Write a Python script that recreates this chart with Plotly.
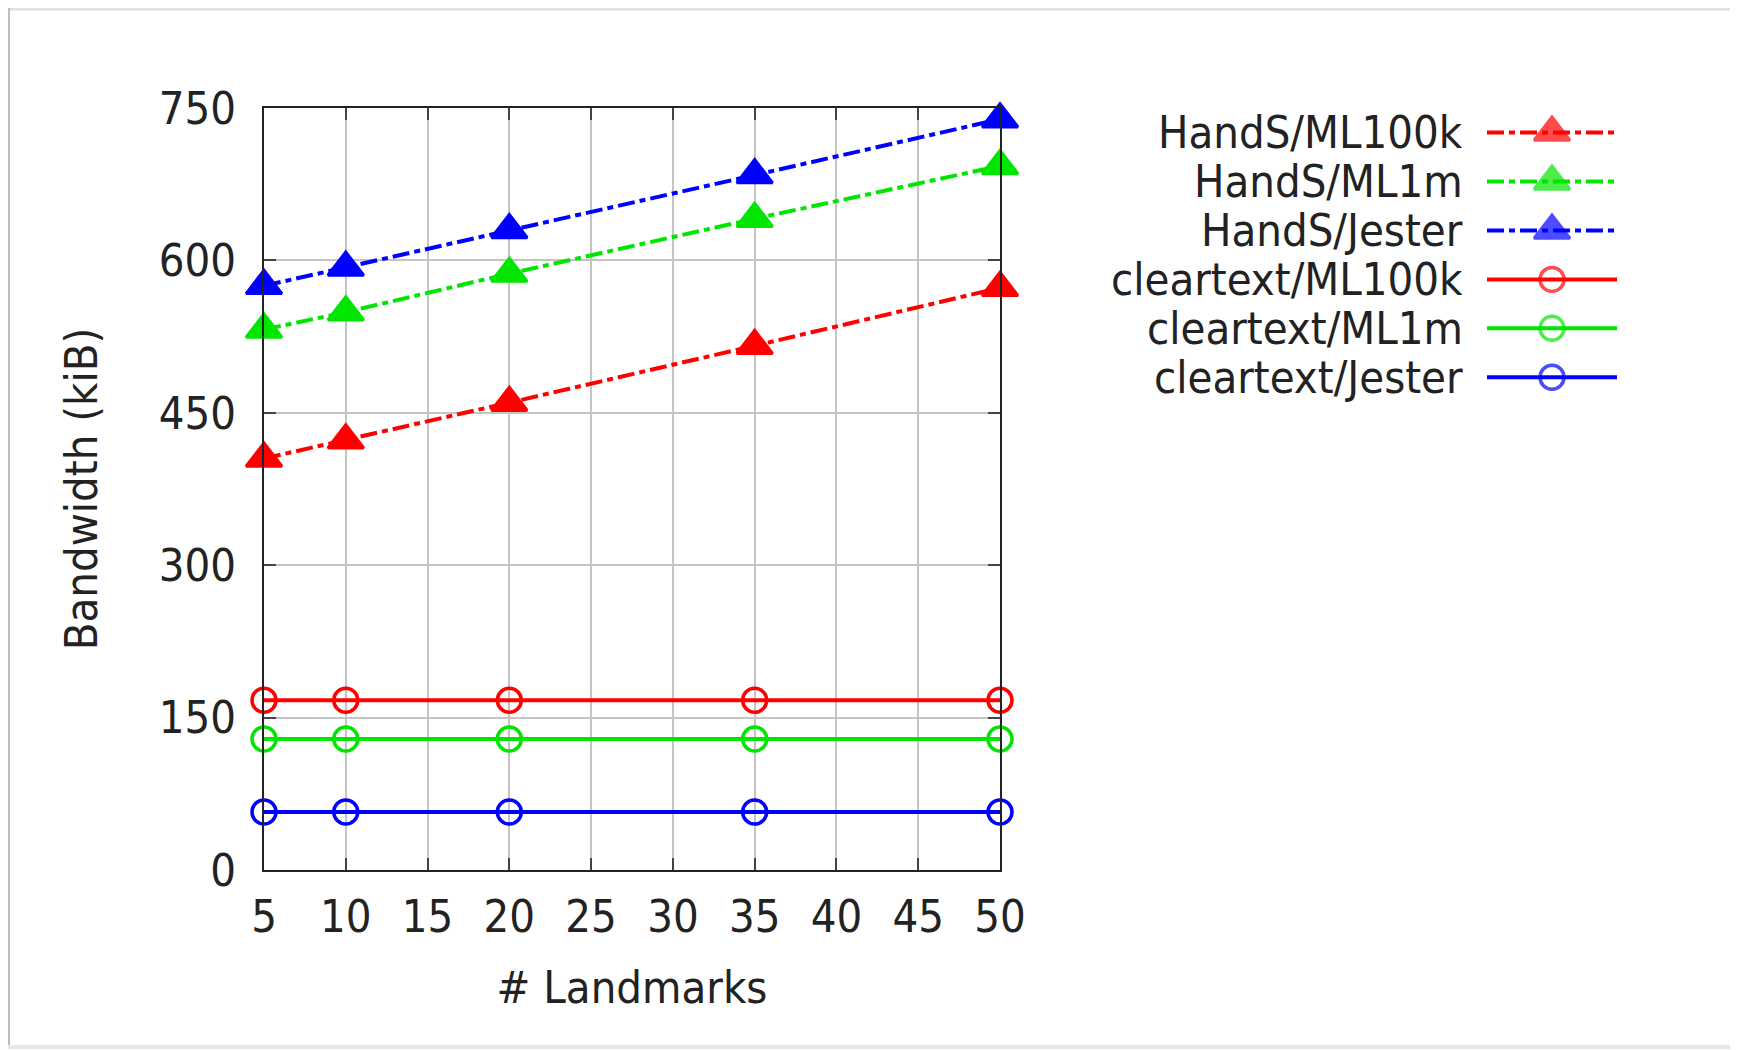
import plotly.graph_objects as go

landmarks = [5, 10, 20, 35, 50]
hands_ml100k = [405, 423, 460, 516, 573]
hands_ml1m = [532, 549, 587, 641, 693]
hands_jester = [575, 593, 630, 684, 739]
clear_ml100k = [167, 167, 167, 167, 167]
clear_ml1m = [129, 129, 129, 129, 129]
clear_jester = [57, 57, 57, 57, 57]

series_names = ["HandS/ML100k", "HandS/ML1m", "HandS/Jester",
                "cleartext/ML100k", "cleartext/ML1m", "cleartext/Jester"]
series_values = [hands_ml100k, hands_ml1m, hands_jester,
                 clear_ml100k, clear_ml1m, clear_jester]
colors = ["#ff0000", "#00e600", "#0000ff", "#ff0000", "#00e600", "#0000ff"]

x_ticks = [5, 10, 15, 20, 25, 30, 35, 40, 45, 50]
y_ticks = [0, 150, 300, 450, 600, 750]

FONT = "DejaVu Sans Condensed, DejaVu Sans, sans-serif"
FS = 45
TXT = "#222222"
OFF = 8  # page body margin in the browser
W, H = 1738 - OFF, 1050 - OFF
ML, MT = 264 - OFF, 107.5 - OFF
PLOT_R, PLOT_B = 1000 - OFF, 870 - OFF
MR = 100
MB = H - PLOT_B
PW = W - ML - MR
PH = H - MT - MB

def px_x(p):
    return (p - OFF - ML) / PW

def px_y(p):
    return (H - MB - (p - OFF)) / PH

DASH = "17px,5px,6px,5px"
LW = 4

def marker_for(hands, col, sizes):
    if hands:
        return dict(symbol="triangle-up", size=sizes, color=col,
                    line=dict(color=col, width=3))
    return dict(symbol="circle-open", size=sizes, color=col,
                line=dict(color=col, width=3.5))

fig = go.Figure()
for i, (name, vals, col) in enumerate(zip(series_names, series_values, colors)):
    hands = name.startswith("HandS")
    msize = 31 if hands else 24
    fig.add_trace(go.Scatter(
        x=landmarks, y=vals, mode="lines+markers", name=name,
        line=dict(color=col, width=LW, dash=DASH if hands else "solid"),
        marker=marker_for(hands, col, msize),
        cliponaxis=False, showlegend=False,
    ))
    # legend key drawn on auxiliary axes
    fig.add_trace(go.Scatter(
        x=[0, 0.5, 1], y=[i, i, i], xaxis="x2", yaxis="y2",
        mode="lines+markers",
        line=dict(color=col, width=LW, dash=DASH if hands else "solid"),
        marker=marker_for(hands, col, [0, msize, 0]),
        cliponaxis=False, showlegend=False, hoverinfo="skip",
    ))
    fig.add_annotation(x=0, y=i, xref="x2", yref="y2", text=name,
                       showarrow=False, xanchor="right", yanchor="middle",
                       xshift=-22, font=dict(family=FONT, size=FS, color=TXT))

axis_common = dict(showline=True, linecolor="#222222", linewidth=2,
                   mirror="allticks", ticks="inside", ticklen=12,
                   tickcolor="#444444", tickwidth=1.5,
                   showgrid=True, gridcolor="#c4c4c4", gridwidth=1.5,
                   zeroline=False,
                   tickfont=dict(family=FONT, size=FS, color=TXT))

fig.update_layout(
    width=W, height=H,
    margin=dict(l=ML, r=MR, t=MT, b=MB, pad=0),
    paper_bgcolor="white", plot_bgcolor="white",
    xaxis=dict(domain=[0, (PLOT_R - ML) / PW], range=[5, 50],
               tickvals=x_ticks, ticktext=[str(v) for v in x_ticks],
               ticklabelstandoff=6,
               title=dict(text="# Landmarks", standoff=29,
                          font=dict(family=FONT, size=FS, color=TXT)),
               **axis_common),
    yaxis=dict(range=[0, 750], tickvals=y_ticks,
               ticktext=[str(v) for v in y_ticks],
               ticklabelstandoff=17,
               title=dict(text="Bandwidth (kiB)", standoff=47,
                          font=dict(family=FONT, size=45, color=TXT)),
               **axis_common),
    xaxis2=dict(domain=[px_x(1487), px_x(1617)], range=[0, 1], visible=False,
                anchor="y2", fixedrange=True),
    yaxis2=dict(domain=[px_y(107.5 + 294), 1], range=[5.5, -0.5], visible=False,
                anchor="x2", fixedrange=True),
    shapes=[
        dict(type="line", xref="paper", yref="paper",
             x0=px_x(8), x1=px_x(1750), y0=px_y(8), y1=px_y(8),
             line=dict(color="#e0e0e0", width=4)),
        dict(type="line", xref="paper", yref="paper",
             x0=px_x(8), x1=px_x(8), y0=px_y(6), y1=px_y(1047),
             line=dict(color="#bdbdbd", width=4)),
        dict(type="line", xref="paper", yref="paper",
             x0=px_x(8), x1=px_x(1750), y0=px_y(1047), y1=px_y(1047),
             line=dict(color="#e6e6e6", width=4)),
    ],
)

fig.write_html("out.html")
